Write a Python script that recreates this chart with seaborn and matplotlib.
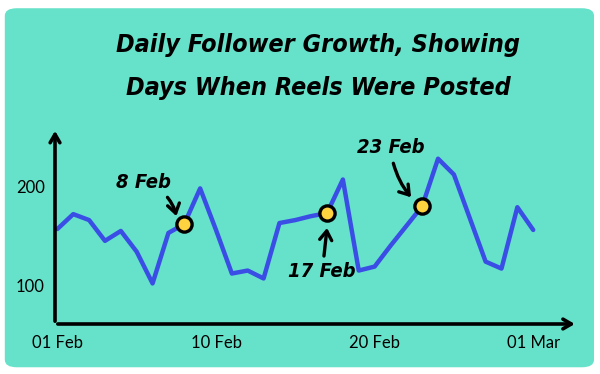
import numpy as np
import pandas as pd
import matplotlib
matplotlib.use('Agg')
import matplotlib.pyplot as plt
from matplotlib.patches import FancyBboxPatch
import seaborn as sns

# daily follower growth, day 0 .. day 30
days = list(range(31))
followers = [157, 172, 166, 145, 155, 134, 102, 153, 162, 198,
             156, 112, 115, 107, 163, 166, 170, 173, 207, 115,
             119, 140, 160, 180, 228, 212, 168, 124, 117, 179, 156]
reel_days = [8, 17, 23]
reel_labels = ['8 Feb', '17 Feb', '23 Feb']
tick_days = [0, 10, 20, 30]
tick_labels = ['01 Feb', '10 Feb', '20 Feb', '01 Mar']
y_ticks = [100, 200]

bg = '#66E2CA'
line_col = '#3A4EE6'
dot_col = '#FFD23F'

df = pd.DataFrame({'day': days, 'followers': followers})
reels = df[df['day'].isin(reel_days)]

sns.set_style('white')
hand = ['DejaVu Sans']
plt.rcParams['font.family'] = ['Lato', 'DejaVu Sans']

fig = plt.figure(figsize=(6, 3.74), dpi=100)
fig.patch.set_facecolor('white')
card = FancyBboxPatch((0.008, 0.018), 0.982, 0.96, boxstyle='round,pad=0,rounding_size=0.02',
                      transform=fig.transFigure, facecolor=bg, edgecolor='none', zorder=-10)
fig.patches.append(card)

ax = fig.add_axes([0.0917, 0.1337, 0.871, 0.524])
ax.set_facecolor('none')
ax.set_zorder(5)

sns.lineplot(data=df, x='day', y='followers', ax=ax, color=line_col, linewidth=3.2, zorder=2)
sns.scatterplot(data=reels, x='day', y='followers', ax=ax, s=120, color=dot_col,
                edgecolor='black', linewidth=2.4, zorder=3)

ax.set_xlim(-0.15, 32.8)
ax.set_ylim(61, 259)
ax.set_xticks(tick_days)
ax.set_xticklabels(tick_labels)
ax.set_yticks(y_ticks)
ax.set_xlabel('')
ax.set_ylabel('')
for s in ['top', 'right', 'left', 'bottom']:
    ax.spines[s].set_visible(False)
ax.tick_params(axis='x', direction='in', length=6, width=2.2, colors='black', labelsize=12, pad=8)
ax.tick_params(axis='y', direction='inout', length=9, width=2.2, colors='black', labelsize=12, pad=3)
ax.xaxis.get_major_ticks()[0].tick1line.set_visible(False)

# arrow axes
ax.annotate('', xy=(1, 0), xytext=(0, 0), xycoords='axes fraction',
            arrowprops=dict(arrowstyle='->,head_length=0.6,head_width=0.35', lw=2.6, color='black'),
            annotation_clip=False)
ax.annotate('', xy=(0, 1), xytext=(0, 0), xycoords='axes fraction',
            arrowprops=dict(arrowstyle='->,head_length=0.6,head_width=0.35', lw=2.6, color='black'),
            annotation_clip=False)

# label placement: (text x, text y, arrow tip x, arrow tip y, curvature)
label_pos = [(5.4, 204, 7.5, 170, -0.3), (16.7, 114, 17.0, 158, 0.0), (21.0, 239, 22.3, 189, 0.15)]
for lab, (tx, ty, ax_, ay, rad) in zip(reel_labels, label_pos):
    ax.annotate(lab, xy=(ax_, ay), xytext=(tx, ty), ha='center', va='center',
                fontsize=14.5, fontweight='bold', fontstyle='italic', fontstretch='condensed',
                family=hand, color='black',
                arrowprops=dict(arrowstyle='->,head_length=0.45,head_width=0.3', lw=2.4,
                                color='black', connectionstyle=f'arc3,rad={rad}',
                                shrinkA=2, shrinkB=0))

for yy, line in [(0.88, 'Daily Follower Growth, Showing'), (0.765, 'Days When Reels Were Posted')]:
    fig.text(0.53, yy, line, ha='center', va='center', fontsize=18, fontweight='bold',
             fontstyle='italic', fontstretch='condensed', family=hand, color='black')

fig.savefig('out.png', dpi=100, facecolor='white')
